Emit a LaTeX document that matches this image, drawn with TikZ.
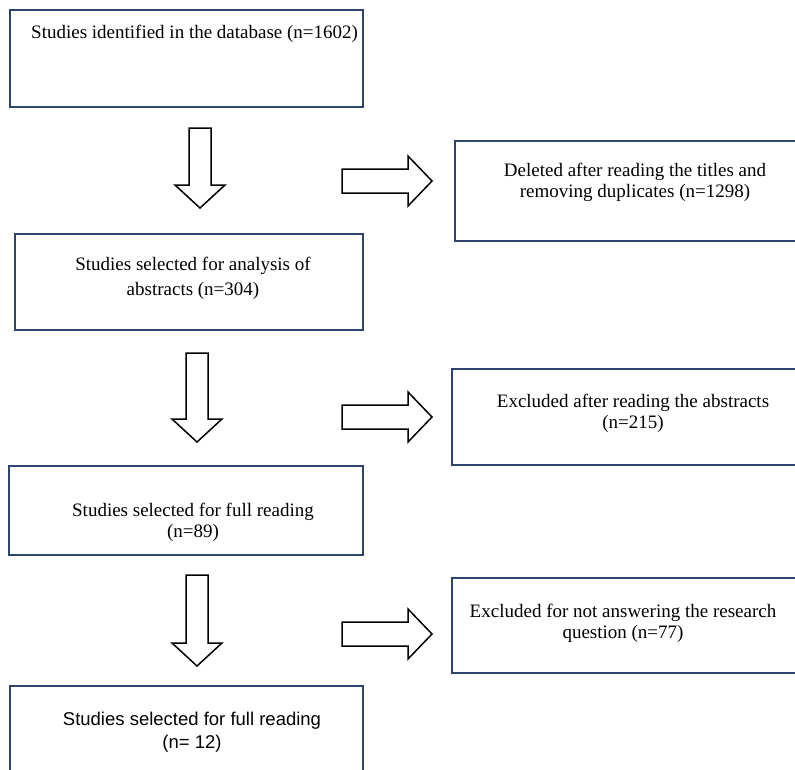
\documentclass[tikz,border=0pt]{standalone}
\usepackage{fontspec}
\setmainfont{Liberation Serif}
\newfontfamily\arialf{Liberation Sans}
\definecolor{boxblue}{RGB}{46,68,112}
\tikzset{
  box/.style={draw=boxblue, line width=2pt, inner sep=0pt, anchor=north west},
  txt/.style={font=\fontsize{19}{21}\selectfont, align=center, inner sep=0pt, anchor=base},
  stxt/.style={font=\arialf\fontsize{18.5}{23}\selectfont, align=center, inner sep=0pt, anchor=base},
  barrow/.style={draw=black, line width=1.5pt, fill=white, line join=miter},
  pics/darrow/.style={code={\draw[barrow] (-11,0) -- (11,0) -- (11,#1) -- (25,#1) -- (0,#1+23) -- (-25,#1) -- (-11,#1) -- cycle;}},
  pics/rarrow/.style={code={\draw[barrow] (0,-12) -- (#1,-12) -- (#1,-25) -- (#1+24,0) -- (#1,25) -- (#1,12) -- (0,12) -- cycle;}}
}
\begin{document}
\begin{tikzpicture}[x=1pt,y=-1pt]
\useasboundingbox (0,0) rectangle (795,769);
\clip (0,0) rectangle (795,769);
\fill[white] (0,0) rectangle (795,769);
% boxes
\node[box, minimum width=353pt, minimum height=97pt] (b1) at (9,9) {};
\node[box, minimum width=360pt, minimum height=100pt] (b2) at (454,140) {};
\node[box, minimum width=348pt, minimum height=96pt] (b3) at (14,233) {};
\node[box, minimum width=360pt, minimum height=96pt] (b4) at (451,368) {};
\node[box, minimum width=354pt, minimum height=89pt] (b5) at (8,465) {};
\node[box, minimum width=360pt, minimum height=95pt] (b6) at (451,577) {};
\node[box, minimum width=353pt, minimum height=120pt] (b7) at (9,685) {};
% texts (base anchor = baseline of the last line)
\node[txt, anchor=base west] (t1) at (31,38) {Studies identified in the database (n=1602)};
\node[txt] (t2) at (635,197) {Deleted after reading the titles and\\removing duplicates (n=1298)};
\node[txt, font=\fontsize{19}{25}\selectfont] (t3) at (193,295) {Studies selected for analysis of\\abstracts (n=304)};
\node[txt] (t4) at (633,428) {Excluded after reading the abstracts\\(n=215)};
\node[txt, font=\fontsize{19}{20.5}\selectfont] (t5) at (193,537) {Studies selected for full reading\\(n=89)};
\node[txt] (t6) at (623,638) {Excluded for not answering the research\\question (n=77)};
\node[stxt] (t7) at (192,748) {Studies selected for full reading\\(n= 12)};
% block arrows
\pic (d1) at (200,128) {darrow=57};
\pic (d2) at (197,353) {darrow=66};
\pic (d3) at (197,575) {darrow=68};
\pic (r1) at (342,181) {rarrow=66};
\pic (r2) at (342,417) {rarrow=66};
\pic (r3) at (342,634) {rarrow=66};
\end{tikzpicture}
\end{document}
